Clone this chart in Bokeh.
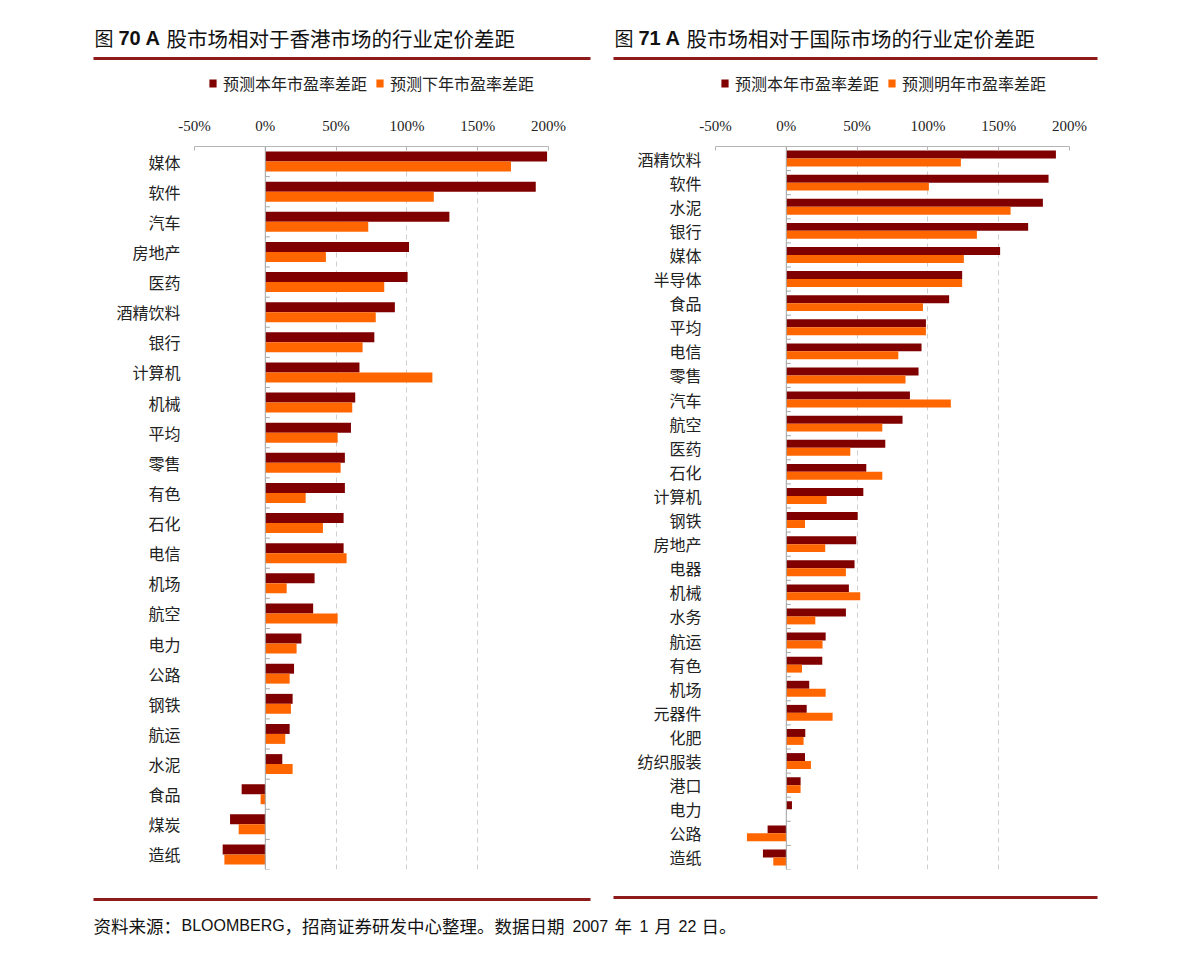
from bokeh.plotting import figure
from bokeh.models import (FactorRange, Range1d, Label, BoxAnnotation, Legend, LegendItem,
                          FixedTicker, Span, ColumnDataSource, PrintfTickFormatter)
from bokeh.layouts import column, row
from bokeh.transform import dodge
from bokeh.embed import file_html
from bokeh.resources import INLINE

# ---------------- data ----------------
hk_categories = ["媒体", "软件", "汽车", "房地产", "医药", "酒精饮料", "银行", "计算机", "机械", "平均",
                 "零售", "有色", "石化", "电信", "机场", "航空", "电力", "公路", "钢铁", "航运",
                 "水泥", "食品", "煤炭", "造纸"]
hk_this_year = [199, 191, 130, 101.5, 100.5, 91.5, 77, 66.5, 63.5, 60.5,
                56.2, 56.2, 55.3, 55.3, 34.8, 33.8, 25.5, 20.3, 19.3, 17.2,
                12, -16.7, -24.9, -30.1]
hk_next_year = [173.5, 119, 72.7, 42.8, 84, 78, 68.7, 118, 61.4, 51.1,
                53.2, 28.5, 40.7, 57.4, 15.1, 51.1, 22.1, 17.2, 18.1, 14.1,
                19.3, -3.3, -18.8, -28.9]
hk_series = ["预测本年市盈率差距", "预测下年市盈率差距"]

intl_categories = ["酒精饮料", "软件", "水泥", "银行", "媒体", "半导体", "食品", "平均", "电信", "零售",
                   "汽车", "航空", "医药", "石化", "计算机", "钢铁", "房地产", "电器", "机械", "水务",
                   "航运", "有色", "机场", "元器件", "化肥", "纺织服装", "港口", "电力", "公路", "造纸"]
intl_this_year = [190.4, 185.2, 181.2, 170.8, 151, 124.2, 115, 98.6, 95.5, 93.4,
                  87.3, 82.1, 69.9, 56.5, 54.4, 50.4, 49.4, 48.2, 44.2, 42.1,
                  27.8, 25.4, 16.2, 14.4, 13.4, 13.2, 10.1, 4.0, -13.2, -16.5]
intl_next_year = [123.3, 100.7, 158.4, 134.6, 125.4, 124.2, 96.5, 98.6, 79.1, 84.2,
                  116.2, 67.8, 45.2, 67.8, 28.5, 13.2, 27.5, 42.1, 52.2, 20.5,
                  25.6, 11.1, 27.8, 32.7, 12.2, 17.4, 10.1, 0, -27.8, -9.2]
intl_series = ["预测本年市盈率差距", "预测明年市盈率差距"]

x_ticks = [-50, 0, 50, 100, 150, 200]

title_left = ("图", "70 A", "股市场相对于香港市场的行业定价差距")
title_right = ("图", "71 A", "股市场相对于国际市场的行业定价差距")
source_note = [("资料来源：", "cjk"), ("BLOOMBERG", "latin"), ("，招商证券研发中心整理。数据日期", "cjk"),
               ("2007", "latin"), ("年", "cjk"), ("1", "latin"), ("月", "cjk"), ("22", "latin"),
               ("日。", "cjk")]
source_note_x = [93, 181, 284, 572, 614, 639, 654, 678, 701]

DARK = "#800000"
ORANGE = "#FF6600"
RULE = "#8E1B1B"
CJK = "Noto Sans CJK SC"
LATIN = "Liberation Sans"
TEXT = "#111111"

HEADER_H = 105
FRAME_TOP = 146


def blank_fig(width, height):
    f = figure(width=width, height=height, x_range=Range1d(0, 1), y_range=Range1d(0, 1),
               x_axis_type=None, y_axis_type=None, output_backend="svg",
               toolbar_location=None, min_border=0)
    f.outline_line_color = None
    f.grid.visible = False
    return f


def rule(f, x0, x1, y):
    f.add_layout(BoxAnnotation(left=x0, right=x1, top=y - 1.5, bottom=y + 1.5,
                               left_units="canvas", right_units="canvas",
                               top_units="canvas", bottom_units="canvas",
                               fill_color=RULE, fill_alpha=1, line_color=None))


# ---------------- header (titles, rules, legends) ----------------
header = blank_fig(1190, HEADER_H)
for (t0, t1, t2), x in ((title_left, 94), (title_right, 614)):
    header.add_layout(Label(x=x, y=37, x_units="canvas", y_units="canvas", text=t0,
                            text_font=CJK, text_font_size="19px", text_baseline="middle",
                            text_color=TEXT))
    header.add_layout(Label(x=x + 24, y=37, x_units="canvas", y_units="canvas", text=t1,
                            text_font=LATIN, text_font_style="bold", text_font_size="20px",
                            text_baseline="middle", text_color=TEXT))
    header.add_layout(Label(x=x + 72, y=37, x_units="canvas", y_units="canvas", text=t2,
                            text_font=CJK, text_font_size="20.5px", text_baseline="middle",
                            text_color=TEXT))
rule(header, 93, 590, 58)
rule(header, 613, 1097, 58)

# legend swatches: renderers whose single row lies outside the header's visible range
swatch = ColumnDataSource(dict(y=[-5], right=[0]))
for names, lx in ((hk_series, 208), (intl_series, 720)):
    d1 = header.hbar(y="y", right="right", height=0.1, source=swatch, fill_color=DARK, line_color=None)
    d2 = header.hbar(y="y", right="right", height=0.1, source=swatch, fill_color=ORANGE, line_color=None)
    header.add_layout(Legend(items=[LegendItem(label=names[0], renderers=[d1]),
                                    LegendItem(label=names[1], renderers=[d2])],
                             orientation="horizontal", location=(lx, 10),
                             border_line_color=None, background_fill_alpha=0,
                             label_text_font=CJK, label_text_font_size="16px",
                             label_text_color="#222222", glyph_width=9, glyph_height=10,
                             spacing=8, label_standoff=6, padding=0, margin=0))


# ---------------- charts ----------------
def make_chart(cats, s1, s2, width, frame_left, frame_bottom):
    frame_w = 354
    height = 872 - HEADER_H
    src = ColumnDataSource(dict(cat=cats, s1=s1, s2=s2))
    p = figure(width=width, height=height,
               y_range=FactorRange(*cats[::-1]), x_range=Range1d(x_ticks[0], x_ticks[-1]),
               x_axis_location="above", output_backend="svg", toolbar_location=None,
               min_border_left=frame_left, min_border_right=width - frame_left - frame_w,
               min_border_top=FRAME_TOP - HEADER_H, min_border_bottom=872 - frame_bottom)
    p.outline_line_color = None
    p.background_fill_color = "white"
    p.border_fill_color = "white"

    p.hbar(y=dodge("cat", 0.165, range=p.y_range), left=0, right="s1", height=0.33,
           source=src, fill_color=DARK, line_color=None)
    p.hbar(y=dodge("cat", -0.165, range=p.y_range), left=0, right="s2", height=0.33,
           source=src, fill_color=ORANGE, line_color=None)

    # zero (category) axis line with boundary ticks
    p.add_layout(Span(location=0, dimension="height", line_color="#A6A6A6", line_width=1))
    p.segment(x0=0, x1=3.2, y0=dodge("cat", -0.5, range=p.y_range),
              y1=dodge("cat", -0.5, range=p.y_range), source=src,
              line_color="#A6A6A6", line_width=1)

    xa = p.xaxis[0]
    xa.ticker = FixedTicker(ticks=x_ticks)
    xa.formatter = PrintfTickFormatter(format="%d%%")
    xa.axis_line_color = "#B5B5B5"
    xa.major_tick_in = 4
    xa.major_tick_out = 0
    xa.major_tick_line_color = "#B5B5B5"
    xa.minor_tick_line_color = None
    xa.major_label_text_font = "Liberation Serif"
    xa.major_label_text_font_size = "15px"
    xa.major_label_text_color = "#222222"
    xa.major_label_standoff = 13

    ya = p.yaxis[0]
    ya.axis_line_color = None
    ya.major_tick_line_color = None
    ya.minor_tick_line_color = None
    ya.major_label_text_font = CJK
    ya.major_label_text_font_size = "16px"
    ya.major_label_text_color = "#222222"
    ya.major_label_standoff = 8

    p.ygrid.grid_line_color = None
    p.xgrid.ticker = FixedTicker(ticks=x_ticks)
    p.xgrid.grid_line_color = "#CFCFCF"
    p.xgrid.grid_line_dash = "5 4"
    return p


left = make_chart(hk_categories, hk_this_year, hk_next_year, width=600, frame_left=194,
                  frame_bottom=872)
right = make_chart(intl_categories, intl_this_year, intl_next_year, width=590, frame_left=115,
                   frame_bottom=869)

# ---------------- footer (rules, source note) ----------------
footer = blank_fig(1190, 954 - 872)
rule(footer, 93, 590, 899 - 872)
rule(footer, 613, 1097, 897 - 872)
for (txt, kind), x in zip(source_note, source_note_x):
    footer.add_layout(Label(x=x, y=925 - 872, x_units="canvas", y_units="canvas", text=txt,
                            text_font=CJK if kind == "cjk" else LATIN,
                            text_font_size="17.5px" if kind == "cjk" else "16px",
                            text_baseline="middle", text_color=TEXT))

layout = column(header, row(left, right), footer)
open("out.html", "w").write(file_html(layout, INLINE))
